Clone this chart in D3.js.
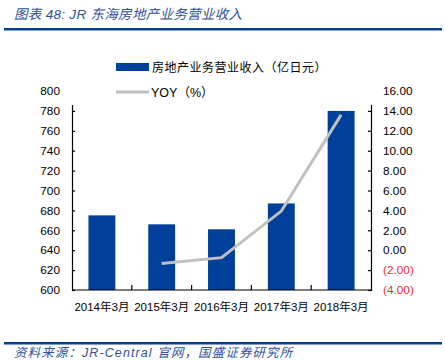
<!DOCTYPE html>
<html>
<head>
<meta charset="utf-8">
<script src="https://cdn.jsdelivr.net/npm/d3@7"></script>
<style>
  body { margin: 0; background: #fff; }
  text { font-family: "Liberation Sans", "Noto Sans CJK SC", sans-serif; }
</style>
</head>
<body>
<div id="chart"></div>
<script>
// Data
var categories = ["2014年3月", "2015年3月", "2016年3月", "2017年3月", "2018年3月"];
var revenue = [675, 666, 661, 687, 780];           // 亿日元
var yoy = [null, -1.33, -0.75, 3.93, 13.6];        // %
var leftTicks = [600, 620, 640, 660, 680, 700, 720, 740, 760, 780, 800];
var rightTicks = [-4, -2, 0, 2, 4, 6, 8, 10, 12, 14, 16];

var W = 445, H = 361;
var blue = "#00409a", gray = "#c0c0c0", titleBlue = "#2f4f9a";
// plot edges (careful: "top" is taken by window)
var plotL = 72, plotR = 371, plotT = 91, plotB = 290;

var svg = d3.select("#chart").append("svg").attr("width", W).attr("height", H);

// title + rules
svg.append("text").attr("x", 14).attr("y", 19)
  .attr("font-size", 13.5).attr("font-style", "italic").attr("fill", titleBlue)
  .attr("font-family", "'Noto Sans CJK SC', sans-serif").attr("letter-spacing", 0.3)
  .text("图表 48:  JR 东海房地产业务营业收入");
svg.append("rect").attr("x", 4).attr("y", 28).attr("width", 438).attr("height", 2.5).attr("fill", "#003f94");
svg.append("rect").attr("x", 4).attr("y", 342).attr("width", 438).attr("height", 2.5).attr("fill", "#003f94");
svg.append("text").attr("x", 14).attr("y", 357)
  .attr("font-size", 12.5).attr("font-style", "italic").attr("fill", titleBlue)
  .attr("font-family", "'Noto Sans CJK SC', sans-serif").attr("letter-spacing", 1.1)
  .text("资料来源：JR-Central 官网，国盛证券研究所");

// scales
var x = d3.scaleBand().domain(categories).range([plotL, plotR]).paddingInner(0.55).paddingOuter(0.275);
var yL = d3.scaleLinear().domain([600, 800]).range([plotB, plotT]);
var yR = d3.scaleLinear().domain([-4, 16]).range([plotB, plotT]);

// bars
svg.selectAll("rect.bar").data(revenue).enter().append("rect")
  .attr("class", "bar")
  .attr("fill", blue)
  .attr("x", function(d, i){ return x(categories[i]); })
  .attr("y", function(d){ return yL(d); })
  .attr("width", x.bandwidth())
  .attr("height", function(d){ return plotB - yL(d); });

// YOY line
var line = d3.line()
  .defined(function(d){ return d != null; })
  .x(function(d, i){ return x(categories[i]) + x.bandwidth() / 2; })
  .y(function(d){ return yR(d); });
svg.append("path").datum(yoy).attr("d", line)
  .attr("fill", "none").attr("stroke", gray).attr("stroke-width", 3);

// axes
var axL = svg.append("g").attr("transform", "translate(" + plotL + ",0)")
  .call(d3.axisLeft(yL).tickValues(leftTicks).tickSize(-3).tickPadding(12).tickFormat(d3.format("d")));
var axR = svg.append("g").attr("transform", "translate(" + plotR + ",0)")
  .call(d3.axisRight(yR).tickValues(rightTicks).tickSize(-3).tickPadding(12)
    .tickFormat(function(d){ return d < 0 ? "(" + Math.abs(d).toFixed(2) + ")" : d.toFixed(2); }));
[axL, axR].forEach(function(a){
  a.select(".domain").attr("stroke", "#000").attr("stroke-width", 1.2);
  a.selectAll(".tick line").attr("stroke", "#000").attr("stroke-width", 1.2);
  a.selectAll(".tick text").attr("font-size", 11.8).attr("fill", "#000");
});
axR.selectAll(".tick text").attr("fill", function(d){ return d < 0 ? "#ff2a2a" : "#000"; });

// category axis
svg.append("line").attr("x1", plotL).attr("x2", plotR).attr("y1", plotB).attr("y2", plotB)
  .attr("stroke", "#000").attr("stroke-width", 1.2);
svg.selectAll("line.xtick").data(categories.slice(1)).enter().append("line")
  .attr("class", "xtick")
  .attr("x1", function(d){ return x(d) - x.step() * x.paddingInner() / 2; })
  .attr("x2", function(d){ return x(d) - x.step() * x.paddingInner() / 2; })
  .attr("y1", plotB).attr("y2", plotB - 5)
  .attr("stroke", "#000").attr("stroke-width", 1.2);
svg.selectAll("text.xlab").data(categories).enter().append("text")
  .attr("class", "xlab")
  .attr("x", function(d){ return x(d) + x.bandwidth() / 2; })
  .attr("y", 311)
  .attr("text-anchor", "middle").attr("font-size", 11.5)
  .text(String);

// legend (white box covers the top of the plot)
var lg = svg.append("g");
lg.append("rect").attr("x", 66).attr("y", 50).attr("width", 312).attr("height", 55).attr("fill", "#fff");
lg.append("rect").attr("x", 116).attr("y", 63).attr("width", 33).attr("height", 8).attr("fill", blue);
lg.append("text").attr("x", 152).attr("y", 71.5).attr("font-size", 12)
  .attr("font-family", "'Noto Sans CJK SC', sans-serif").attr("letter-spacing", 0.5)
  .text("房地产业务营业收入（亿日元）");
lg.append("line").attr("x1", 116).attr("x2", 149).attr("y1", 92).attr("y2", 92)
  .attr("stroke", gray).attr("stroke-width", 3);
lg.append("text").attr("x", 151).attr("y", 96.5).attr("font-size", 12.5)
  .text("YOY（%）");
</script>
</body>
</html>
